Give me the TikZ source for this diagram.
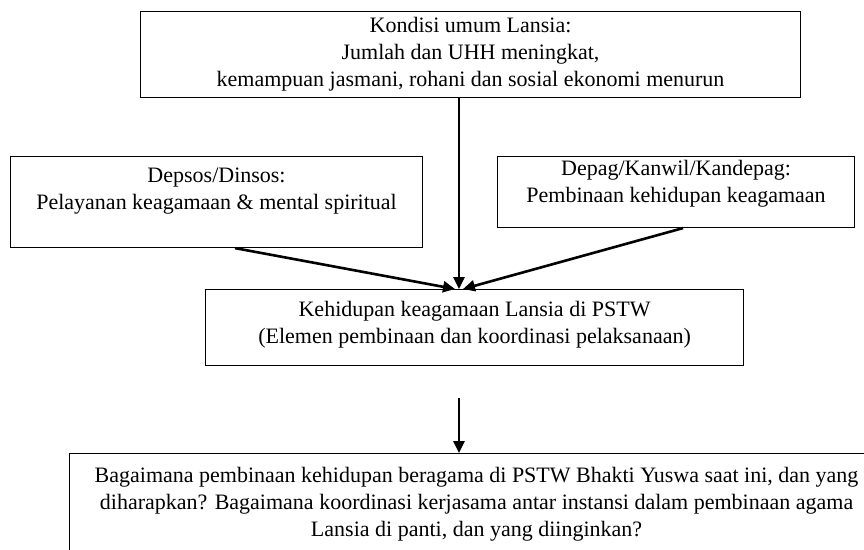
\documentclass[tikz,border=0pt]{standalone}
\usepackage{fontspec}
\setmainfont{Liberation Serif}
\usetikzlibrary{arrows.meta}

\begin{document}
\begin{tikzpicture}[x=1pt, y=-1pt,
    kotak/.style={draw, line width=1.1pt, align=center, inner sep=0pt, anchor=north west},
    panah/.style={line width=2.6pt, -{Triangle[length=12pt, width=11pt]}},
    font=\fontsize{22}{27}\selectfont]
            \useasboundingbox (0,0) rectangle (864,549);
            \node[kotak, minimum width=660pt, minimum height=86pt](K) at (140,11)
              {Kondisi umum Lansia:\\ Jumlah dan UHH meningkat,\\
               kemampuan jasmani, rohani dan sosial ekonomi menurun};
            \node[kotak, minimum width=412pt, minimum height=91pt](D1) at (10,156)
              {Depsos/Dinsos:\\ Pelayanan keagamaan \& mental spiritual\\ ~};
            \node[kotak, minimum width=357pt, minimum height=71pt](D2) at (497,156)
              {Depag/Kanwil/Kandepag:\\ Pembinaan kehidupan keagamaan\\[-5pt] ~};
            \node[kotak, minimum width=538pt, minimum height=76pt](H) at (205,289)
              {Kehidupan keagamaan Lansia di PSTW\\
               (Elemen pembinaan dan koordinasi pelaksanaan)\\[-16pt] ~};
            \node[kotak, minimum width=814pt, minimum height=150pt](B) at (69,453)
              {Bagaimana pembinaan kehidupan beragama di PSTW Bhakti Yuswa saat ini, dan yang\\
               diharapkan? Bagaimana koordinasi kerjasama antar instansi dalam pembinaan agama\\
               Lansia di panti, dan yang diinginkan?\\ ~\\ ~};
            \coordinate (T) at (459,289);
            \coordinate (P) at (459,398);
            \draw[panah] (K.south -| T) -- (T);
            \draw[panah] ([xshift=225pt]D1.south west) -- ([xshift=-4pt]T);
            \draw[panah] ([xshift=186pt]D2.south west) -- ([xshift=4pt]T);
            \draw[panah] (P) -- (B.north -| P);
        \end{tikzpicture}
\end{document}
